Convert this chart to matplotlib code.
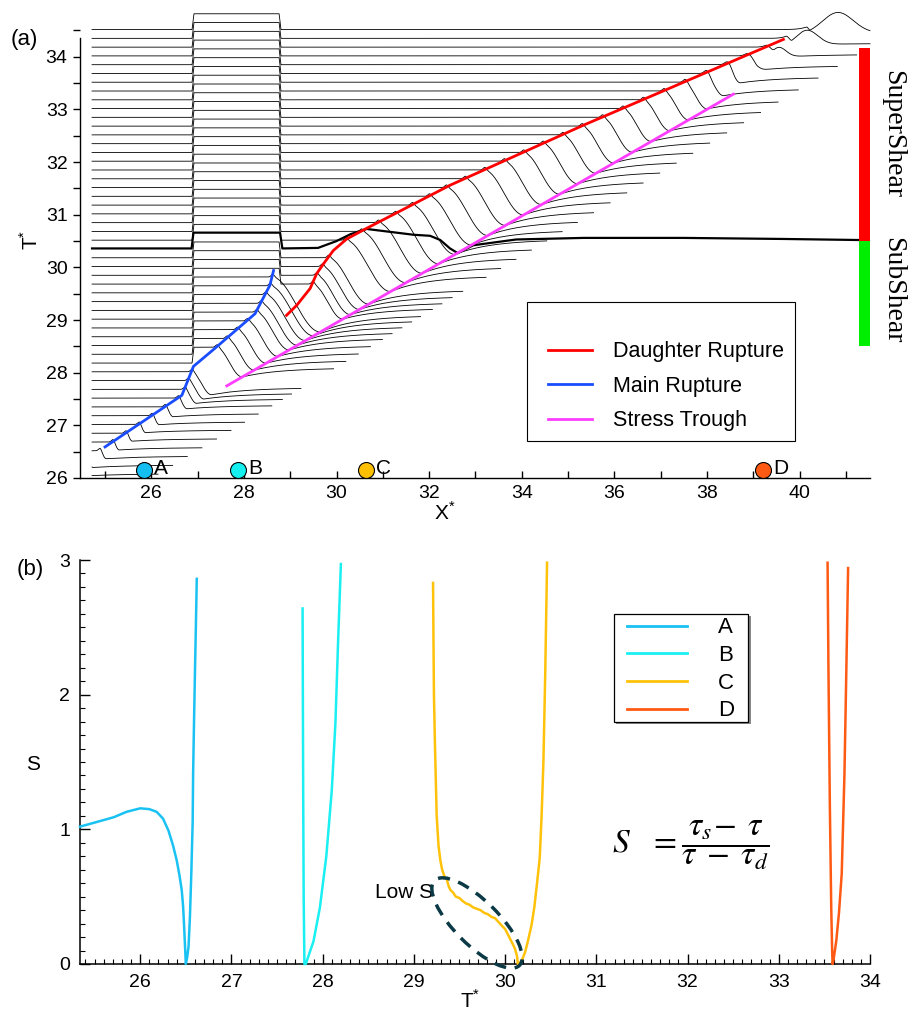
import numpy as np
import matplotlib
matplotlib.use('Agg')
import matplotlib.pyplot as plt
from matplotlib.patches import Rectangle, Ellipse
from matplotlib.ticker import MultipleLocator
from matplotlib.lines import Line2D
import matplotlib.transforms as mtransforms

plt.rcParams['font.family'] = ['Liberation Sans', 'DejaVu Sans']
plt.rcParams['mathtext.fontset'] = 'custom'
plt.rcParams['mathtext.rm'] = 'Liberation Sans'

# ---------------- data: panel (a) ----------------
trace_levels = [26.183, 26.350, 26.517, 26.683, 26.850, 27.017, 27.183, 27.350,
                27.517, 27.683, 27.850, 28.017, 28.183, 28.350, 28.517, 28.683,
                28.850, 29.017, 29.183, 29.350, 29.517, 29.683, 29.850, 30.017,
                30.183, 30.517, 30.683, 30.850, 31.017, 31.183, 31.350, 31.517,
                31.683, 31.850, 32.017, 32.183, 32.350, 32.517, 32.683, 32.850,
                33.017, 33.183, 33.350, 33.517, 33.683, 33.850, 34.017, 34.183,
                34.350, 34.517]
trace_start_x = 24.72

# barrier (box) zone
box_x = [26.88, 28.80]
box_rise = 0.30

# main rupture front (blue)
blue_x = [25.00, 26.66, 26.91, 27.41, 28.24, 28.56, 28.64]
blue_T = [26.59, 27.57, 28.12, 28.49, 29.12, 29.66, 29.94]
# daughter rupture front (red)
red_x = [28.92, 29.14, 29.43, 29.57, 29.72, 29.93, 30.22, 30.58, 32.45, 35.33, 39.65]
red_T = [29.09, 29.28, 29.60, 29.88, 30.07, 30.32, 30.54, 30.71, 31.56, 32.70, 34.33]
# stress trough (magenta)
mag_x = [27.63, 38.57]
mag_T = [27.75, 33.29]
# line where traces end (wave front)
end_x = [26.71, 41.07]
end_T = [26.37, 33.95]
# peak height at the front, per time
peak_T = [26.0, 33.40, 33.85, 34.02, 34.18, 34.35, 34.52]
peak_h = [0.05, 0.05, 0.09, 0.13, 0.19, 0.28, 0.40]
dscale_T = [33.5, 34.0, 34.52]
dscale_v = [1.0, 0.7, 0.3]

# transition trace (thick)
thick_x = [24.72, 26.87, 26.91, 28.78, 28.83, 29.60, 30.00, 30.30, 30.65, 31.66,
           32.02, 32.24, 32.45, 32.62, 32.95, 33.88, 35.33, 37.49, 39.65, 41.28]
thick_T = [30.36, 30.36, 30.66, 30.66, 30.36, 30.37, 30.50, 30.63, 30.73, 30.62,
           30.60, 30.52, 30.36, 30.27, 30.42, 30.53, 30.56, 30.56, 30.54, 30.52]

# regime bar
bar_x = [41.28, 41.52]
bar_lo = [28.50, 30.50]
bar_hi = [30.50, 34.17]
bar_col = ['#00ee00', '#ff0000']

# station markers
stations = ['A', 'B', 'C', 'D']
station_x = [25.84, 27.87, 30.64, 39.22]
station_y = 26.16
station_col = ['#14BEF0', '#14F0F0', '#FFC000', '#FF5A14']

# ---------------- data: panel (b) ----------------
A_T = [25.34, 25.50, 25.71, 25.85, 26.00, 26.10, 26.18, 26.25, 26.31, 26.36, 26.40,
       26.43, 26.455, 26.47, 26.48, 26.49, 26.50, 26.515, 26.53, 26.545, 26.56,
       26.575, 26.58, 26.59, 26.60, 26.61, 26.62]
A_S = [1.02, 1.05, 1.09, 1.13, 1.156, 1.15, 1.13, 1.08, 0.99, 0.88, 0.77, 0.66,
       0.55, 0.43, 0.30, 0.15, 0.0, 0.05, 0.13, 0.35, 0.67, 1.05, 1.41, 1.80, 2.16,
       2.50, 2.86]
B_T = [27.78, 27.783, 27.787, 27.792, 27.80, 27.815, 27.85, 27.90, 27.97, 28.04,
       28.10, 28.14, 28.17, 28.20]
B_S = [2.64, 2.00, 1.20, 0.50, 0.0, 0.0, 0.07, 0.17, 0.42, 0.80, 1.29, 1.79, 2.41, 2.97]
C_T = [29.21, 29.215, 29.22, 29.23, 29.25, 29.27, 29.29, 29.31, 29.34, 29.36,
       29.38, 29.40, 29.43, 29.46, 29.50, 29.53, 29.57, 29.61, 29.65, 29.69, 29.73,
       29.77, 29.81, 29.85, 29.89, 29.93, 29.97, 30.00, 30.03, 30.06, 30.09, 30.11,
       30.13, 30.14, 30.16, 30.18, 30.22, 30.25, 30.29, 30.32, 30.35, 30.38, 30.40,
       30.42, 30.44, 30.46]
C_S = [2.83, 2.40, 2.00, 1.66, 1.10, 0.88, 0.77, 0.70, 0.64, 0.63, 0.58, 0.55,
       0.53, 0.50, 0.49, 0.47, 0.45, 0.44, 0.42, 0.41, 0.40, 0.38, 0.37, 0.35, 0.34,
       0.31, 0.28, 0.26, 0.22, 0.18, 0.14, 0.11, 0.06, 0.0, 0.01, 0.02, 0.09, 0.17,
       0.29, 0.42, 0.60, 0.79, 1.10, 1.50, 2.16, 2.98]
D_T = [33.535, 33.545, 33.56, 33.575, 33.585, 33.59, 33.60, 33.63, 33.66, 33.69,
       33.72, 33.74, 33.76]
D_S = [2.98, 2.16, 1.17, 0.42, 0.10, 0.0, 0.03, 0.17, 0.38, 0.67, 1.41, 2.16, 2.94]
curve_col = ['#19C2F2', '#1AEFF2', '#FFC20A', '#FF5A14']


def extrap(v, xp, fp):
    xp = np.asarray(xp, float)
    fp = np.asarray(fp, float)
    v = np.asarray(v, float)
    out = np.interp(v, xp, fp)
    lo_s = (fp[1] - fp[0]) / (xp[1] - xp[0])
    hi_s = (fp[-1] - fp[-2]) / (xp[-1] - xp[-2])
    out = np.where(v < xp[0], fp[0] + (v - xp[0]) * lo_s, out)
    out = np.where(v > xp[-1], fp[-1] + (v - xp[-1]) * hi_s, out)
    return out


def front_of(T):
    if T <= blue_T[-1]:
        xb = float(extrap(T, blue_T, blue_x))
        if xb < box_x[0]:
            return xb, T, 'main_out'
        if T + box_rise <= blue_T[-1]:
            return float(np.interp(T + box_rise, blue_T, blue_x)), T + box_rise, 'main_in'
    return float(extrap(T, red_T, red_x)), T, 'daughter'


fig = plt.figure(figsize=(9.15, 10.17), dpi=100)
W, H = 915.0, 1017.0

# ================= panel (a) =================
ax1 = fig.add_axes([80 / W, 1 - 478 / H, 790 / W, (478 - 9.4) / H])
ax1.set_xlim(24.46, 41.52)
ax1.set_ylim(26.0, 34.9)

xg = np.linspace(trace_start_x, ax1.get_xlim()[1], 5000)
ms = (mag_T[1] - mag_T[0]) / (mag_x[1] - mag_x[0])
S0 = 1.0
box = box_rise * np.clip((xg - box_x[0]) / 0.04, 0, 1) * np.clip((box_x[1] - xg) / 0.04, 0, 1)
endline = extrap(xg, end_x, end_T)

for T in trace_levels:
    xf, top, kind = front_of(T)
    p = float(np.interp(T, peak_T, peak_h))
    if kind == 'main_out':
        base = np.zeros_like(xg)
    elif kind == 'main_in':
        base = np.where(xg < xf, box, box_rise)
    else:
        base = box
    xm = (top + S0 * xf - mag_T[0] + ms * mag_x[0]) / (S0 + ms)
    Tm = mag_T[0] + ms * (xm - mag_x[0])
    D = max(top - Tm, 0.15) * float(np.interp(T, dscale_T, dscale_v))
    xm = xf + D / S0
    r = 0.3 * D
    u = np.clip((xg - xf) / (xm - xf), 0, 1)
    drop = D * (0.5 - 0.5 * np.cos(np.pi * u))
    rise = np.where(xg > xm, r * (1 - np.exp(-(xg - xm) / 0.8)), 0.0)
    c = 0.02 + 1.9 * (p - 0.05)
    w = 0.05 + 1.2 * (p - 0.05)
    bump = p * np.exp(-((xg - (xf + c)) / w) ** 2)
    y = T + base - drop + rise + bump
    cut = np.where((xg > xf) & (y < endline))[0]
    n = cut[0] if len(cut) else len(xg)
    ax1.plot(xg[:n], y[:n], color='black', lw=0.6, clip_on=False, zorder=2)

ax1.plot(thick_x, thick_T, color='black', lw=1.6, clip_on=False, zorder=3)

ax1.plot(blue_x, blue_T, color='#1A4DFF', lw=2.0, zorder=5, clip_on=False)
ax1.plot(red_x, red_T, color='#FF0000', lw=2.0, zorder=5, clip_on=False)
ax1.plot(mag_x, mag_T, color='#FF3DFF', lw=2.0, zorder=5, clip_on=False)

for lo, hi, col in zip(bar_lo, bar_hi, bar_col):
    ax1.add_patch(Rectangle((bar_x[0], lo), bar_x[1] - bar_x[0], hi - lo,
                            facecolor=col, edgecolor='none', zorder=4, clip_on=False))

for name, sx, col in zip(stations, station_x, station_col):
    ax1.plot([sx], [station_y], 'o', ms=11.5, mfc=col, mec='black', mew=0.8,
             zorder=6, clip_on=False)
    ax1.text(sx + 0.22, station_y + 0.02, name, fontsize=15, va='center', ha='left', zorder=6)

ax1.spines['top'].set_visible(False)
ax1.spines['right'].set_visible(False)
ax1.spines['left'].set_bounds(26.0, 34.36)
ax1.spines['left'].set_linewidth(1.0)
ax1.spines['bottom'].set_linewidth(1.0)
ax1.xaxis.set_minor_locator(MultipleLocator(1))
ax1.set_xticks(np.arange(26, 41, 2))
ax1.yaxis.set_minor_locator(MultipleLocator(0.5))
ax1.set_yticks(np.arange(26, 35, 1))
ax1.tick_params(axis='x', which='both', direction='in', length=5, width=1.0,
                labelsize=14, pad=5)
ax1.tick_params(axis='y', which='both', direction='out', length=5, width=1.0,
                labelsize=14, pad=4)

# legend (a)
leg_handles = [Line2D([], [], color='#FF0000', lw=2.0),
               Line2D([], [], color='#1A4DFF', lw=2.0),
               Line2D([], [], color='#FF3DFF', lw=2.0)]
leg_labels = ['Daughter Rupture', 'Main Rupture', 'Stress Trough']
ax1.add_patch(Rectangle((0.566, 0.079), 0.339, 0.297, transform=ax1.transAxes,
                        facecolor='white', edgecolor='black', lw=0.8, zorder=7))
lg = ax1.legend(leg_handles, leg_labels, loc='upper left',
                bbox_to_anchor=(0.593, 0.292), frameon=False, fontsize=15.5,
                handlelength=2.0, handletextpad=1.0, labelspacing=0.63,
                borderpad=0, borderaxespad=0)
lg.set_zorder(8)

ax1.text(1.029, 0.734, 'SuperShear', transform=ax1.transAxes, rotation=270,
         fontsize=20, family='Liberation Serif', ha='center', va='center')
ax1.text(1.029, 0.401, 'SubShear', transform=ax1.transAxes, rotation=270,
         fontsize=20, family='Liberation Serif', ha='center', va='center')

fig.text(24 / W, 1 - 40 / H, '(a)', fontsize=16, ha='center', va='center')
fig.text(30 / W, 1 - 240 / H, r'$\mathrm{T}^{*}$', fontsize=15, rotation=90,
         ha='center', va='center')
fig.text(445 / W, 1 - 512 / H, r'$\mathrm{X}^{*}$', fontsize=15, ha='center', va='center')

# ================= panel (b) =================
ax2 = fig.add_axes([80 / W, (H - 964) / H, 790 / W, 404 / H])
ax2.set_xlim(25.34, 34.0)
ax2.set_ylim(0, 3)
for Tx, Sy, col in zip([A_T, B_T, C_T, D_T], [A_S, B_S, C_S, D_S], curve_col):
    ax2.plot(Tx, Sy, color=col, lw=1.8, clip_on=False, zorder=3)

ax2.spines['top'].set_visible(False)
ax2.spines['right'].set_visible(False)
ax2.spines['left'].set_linewidth(1.1)
ax2.spines['bottom'].set_linewidth(1.1)
ax2.xaxis.set_major_locator(MultipleLocator(1))
ax2.xaxis.set_minor_locator(MultipleLocator(0.1))
ax2.yaxis.set_major_locator(MultipleLocator(1))
ax2.yaxis.set_minor_locator(MultipleLocator(0.1))
ax2.tick_params(axis='both', which='major', direction='in', length=7, width=1.0,
                labelsize=14)
ax2.tick_params(axis='both', which='minor', direction='in', length=3.5, width=0.8)
ax2.tick_params(axis='x', which='major', pad=7)
ax2.tick_params(axis='y', which='major', pad=7)

# legend (b)
ax2.add_patch(Rectangle((0.679, 0.594), 0.170, 0.267, transform=ax2.transAxes,
                        facecolor='#888888', edgecolor='none', zorder=6))
ax2.add_patch(Rectangle((0.676, 0.599), 0.170, 0.267, transform=ax2.transAxes,
                        facecolor='white', edgecolor='black', lw=0.9, zorder=7))
hb = [Line2D([], [], color=c, lw=2.0) for c in curve_col]
lg2 = ax2.legend(hb, stations, loc='upper left', bbox_to_anchor=(0.692, 0.858),
                 frameon=False, fontsize=16, handlelength=2.7, handletextpad=1.4,
                 labelspacing=0.30, borderpad=0, borderaxespad=0)
lg2.set_zorder(8)

fig.text(612 / W, 1 - 845 / H, r'$S\;\;\;=\dfrac{\tau_s\!-\;\tau}{\tau\;-\;\tau_d}$',
         math_fontfamily='stix', fontsize=24, ha='left', va='center')
ax2.text(28.89, 0.53, 'Low S', fontsize=15, ha='center', va='center')

ell_tr = fig.dpi_scale_trans + mtransforms.ScaledTranslation(4.77, (H - 923) / 100.0,
                                                             fig.dpi_scale_trans)
ell = Ellipse((0, 0), width=1.20, height=0.44, angle=-45, transform=ell_tr,
              fill=False, edgecolor='#0B3A46', lw=2.5, linestyle=(0, (3.5, 2.5)),
              zorder=5)
fig.add_artist(ell)

fig.text(30 / W, 1 - 570 / H, '(b)', fontsize=16, ha='center', va='center')
fig.text(33 / W, 1 - 765 / H, 'S', fontsize=15, ha='center', va='center')
fig.text(470 / W, 1 - 1000 / H, r'$\mathrm{T}^{*}$', fontsize=15, ha='center', va='center')

fig.savefig('out.png', dpi=100)
